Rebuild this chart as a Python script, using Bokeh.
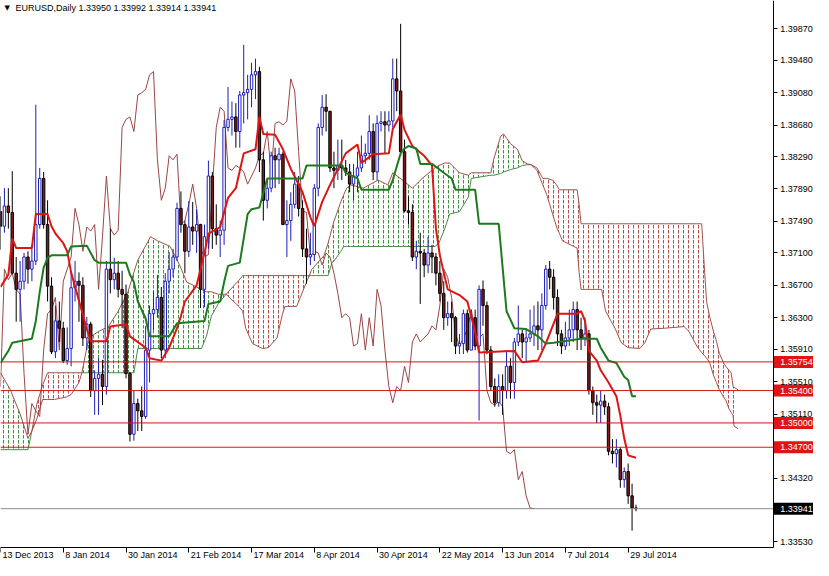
import numpy as np
from bokeh.plotting import figure
from bokeh.models import (Range1d, LinearAxis, FixedTicker, PrintfTickFormatter,
                          CustomJSTickFormatter, ColumnDataSource)
from bokeh.core.properties import value
from bokeh.embed import file_html
from bokeh.resources import INLINE

# ---------------- data ----------------
SYMBOL = "EURUSD,Daily"
LAST_BAR = ["1.33950", "1.33992", "1.33914", "1.33941"]

OPEN = [1.3761,1.3743,1.3768,1.3760,1.3685,1.3665,1.3675,1.3705,1.3690,1.3700,
        1.3745,1.3802,1.3745,1.3669,1.3588,1.3626,1.3617,1.3577,1.3592,1.3667,
        1.3675,1.3670,1.3605,1.3622,1.3540,1.3555,1.3560,1.3545,1.3690,1.3677,
        1.3685,1.3665,1.3659,1.3561,1.3486,1.3524,1.3515,1.3508,1.3590,1.3635,
        1.3640,1.3655,1.3590,1.3675,1.3690,1.3705,1.3765,1.3745,1.3712,1.3742,
        1.3737,1.3745,1.3665,1.3730,1.3805,1.3740,1.3732,1.3738,1.3865,1.3875,
        1.3878,1.3860,1.3905,1.3908,1.3912,1.3930,1.3934,1.3825,1.3775,1.3790,
        1.3830,1.3825,1.3832,1.3745,1.3750,1.3770,1.3795,1.3765,1.3715,1.3705,
        1.3708,1.3790,1.3865,1.3890,1.3885,1.3815,1.3812,1.3818,1.3815,1.3810,
        1.3795,1.3805,1.3815,1.3830,1.3833,1.3860,1.3810,1.3870,1.3872,1.3868,
        1.3873,1.3925,1.3910,1.3835,1.3762,1.3760,1.3705,1.3712,1.3710,1.3695,
        1.3710,1.3705,1.3685,1.3660,1.3630,1.3635,1.3630,1.3595,1.3598,1.3635,
        1.3590,1.3630,1.3595,1.3665,1.3645,1.3590,1.3545,1.3525,1.3545,1.3540,
        1.3570,1.3550,1.3600,1.3610,1.3600,1.3605,1.3610,1.3620,1.3615,1.3645,
        1.3690,1.3680,1.3655,1.3610,1.3595,1.3605,1.3615,1.3640,1.3615,1.3605,
        1.3610,1.3540,1.3525,1.3522,1.3527,1.3520,1.3465,1.3462,1.3467,1.3430,
        1.3440,1.3410,1.3395]
HIGH = [1.3780,1.3790,1.3790,1.3811,1.3705,1.3700,1.3710,1.3712,1.3720,1.3893,
        1.3815,1.3810,1.3775,1.3680,1.3645,1.3650,1.3625,1.3618,1.3686,1.3700,
        1.3686,1.3680,1.3631,1.3625,1.3565,1.3580,1.3578,1.3700,1.3740,1.3704,
        1.3700,1.3688,1.3671,1.3563,1.3540,1.3530,1.3545,1.3620,1.3645,1.3663,
        1.3683,1.3668,1.3685,1.3711,1.3715,1.3772,1.3786,1.3750,1.3774,1.3773,
        1.3764,1.3746,1.3745,1.3824,1.3810,1.3770,1.3750,1.3874,1.3915,1.3897,
        1.3895,1.3910,1.3967,1.3930,1.3945,1.3950,1.3940,1.3835,1.3800,1.3835,
        1.3840,1.3840,1.3835,1.3775,1.3785,1.3810,1.3805,1.3775,1.3740,1.3735,
        1.3795,1.3870,1.3905,1.3906,1.3885,1.3835,1.3850,1.3850,1.3825,1.3820,
        1.3820,1.3835,1.3855,1.3845,1.3880,1.3870,1.3880,1.3885,1.3885,1.3885,
        1.3950,1.3950,1.3993,1.3850,1.3780,1.3770,1.3725,1.3735,1.3715,1.3730,
        1.3720,1.3710,1.3700,1.3675,1.3650,1.3650,1.3632,1.3610,1.3640,1.3640,
        1.3640,1.3640,1.3670,1.3676,1.3650,1.3595,1.3555,1.3560,1.3560,1.3590,
        1.3580,1.3605,1.3645,1.3615,1.3615,1.3640,1.3645,1.3650,1.3660,1.3695,
        1.3700,1.3690,1.3665,1.3615,1.3625,1.3640,1.3650,1.3650,1.3630,1.3630,
        1.3615,1.3545,1.3535,1.3540,1.3535,1.3525,1.3480,1.3480,1.3470,1.3445,
        1.3450,1.3425,1.3399]
LOW = [1.3714,1.3735,1.3740,1.3685,1.3625,1.3625,1.3665,1.3672,1.3675,1.3695,
       1.3740,1.3740,1.3650,1.3585,1.3580,1.3600,1.3574,1.3572,1.3570,1.3650,
       1.3625,1.3595,1.3590,1.3532,1.3510,1.3510,1.3522,1.3535,1.3660,1.3665,
       1.3655,1.3617,1.3555,1.3477,1.3478,1.3490,1.3490,1.3505,1.3550,1.3615,
       1.3630,1.3580,1.3580,1.3660,1.3680,1.3700,1.3735,1.3685,1.3705,1.3720,
       1.3710,1.3642,1.3643,1.3715,1.3715,1.3720,1.3705,1.3720,1.3860,1.3855,
       1.3840,1.3840,1.3870,1.3875,1.3890,1.3900,1.3810,1.3750,1.3765,1.3785,
       1.3790,1.3795,1.3745,1.3705,1.3725,1.3765,1.3755,1.3705,1.3672,1.3695,
       1.3700,1.3780,1.3855,1.3860,1.3810,1.3790,1.3800,1.3800,1.3805,1.3785,
       1.3775,1.3785,1.3810,1.3820,1.3825,1.3800,1.3800,1.3860,1.3832,1.3860,
       1.3865,1.3885,1.3830,1.3760,1.3745,1.3700,1.3690,1.3647,1.3680,1.3685,
       1.3685,1.3670,1.3650,1.3615,1.3620,1.3600,1.3585,1.3585,1.3585,1.3587,
       1.3590,1.3590,1.3503,1.3620,1.3585,1.3540,1.3520,1.3520,1.3510,1.3530,
       1.3530,1.3530,1.3595,1.3580,1.3575,1.3600,1.3595,1.3590,1.3590,1.3640,
       1.3665,1.3640,1.3595,1.3585,1.3590,1.3595,1.3600,1.3590,1.3590,1.3595,
       1.3535,1.3510,1.3500,1.3500,1.3510,1.3460,1.3450,1.3445,1.3420,1.3420,
       1.3400,1.3367,1.3391]
CLOSE = [1.3743,1.3768,1.3760,1.3685,1.3665,1.3675,1.3705,1.3690,1.3700,1.3745,
         1.3802,1.3745,1.3669,1.3588,1.3626,1.3617,1.3577,1.3592,1.3667,1.3675,
         1.3670,1.3605,1.3622,1.3540,1.3555,1.3560,1.3545,1.3690,1.3677,1.3685,
         1.3665,1.3659,1.3561,1.3486,1.3524,1.3515,1.3508,1.3590,1.3635,1.3640,
         1.3655,1.3590,1.3675,1.3690,1.3705,1.3765,1.3745,1.3712,1.3742,1.3737,
         1.3745,1.3665,1.3730,1.3805,1.3740,1.3732,1.3738,1.3865,1.3875,1.3878,
         1.3860,1.3905,1.3908,1.3912,1.3930,1.3934,1.3825,1.3775,1.3790,1.3830,
         1.3825,1.3832,1.3745,1.3750,1.3770,1.3795,1.3765,1.3715,1.3705,1.3708,
         1.3790,1.3865,1.3890,1.3885,1.3815,1.3812,1.3818,1.3815,1.3810,1.3795,
         1.3805,1.3815,1.3830,1.3833,1.3860,1.3810,1.3870,1.3872,1.3868,1.3873,
         1.3925,1.3910,1.3835,1.3762,1.3760,1.3705,1.3712,1.3710,1.3695,1.3710,
         1.3705,1.3685,1.3660,1.3630,1.3635,1.3630,1.3595,1.3598,1.3635,1.3590,
         1.3630,1.3595,1.3665,1.3645,1.3590,1.3545,1.3525,1.3545,1.3540,1.3570,
         1.3550,1.3600,1.3610,1.3600,1.3605,1.3610,1.3620,1.3615,1.3645,1.3690,
         1.3680,1.3655,1.3610,1.3595,1.3605,1.3615,1.3640,1.3615,1.3605,1.3610,
         1.3540,1.3525,1.3522,1.3527,1.3520,1.3465,1.3462,1.3467,1.3430,1.3440,
         1.3410,1.3395,1.3394]

# Tenkan-sen (red) and Kijun-sen (green): bar index -> price
TENKAN_IDX = [0,2,3,4,8,9,12,13,14,15,16,17,18,22,23,27,28,32,33,37,38,41,43,45,46,47,
              50,52,53,56,58,60,62,65,66,67,70,72,74,77,79,80,82,84,88,91,92,95,99,100,
              102,103,105,108,110,111,112,113,114,117,119,121,122,131,133,137,139,142,
              147,148,149,150,152,153,155,157,158,159,160,162]
TENKAN = [1.3668,1.3683,1.3728,1.3716,1.3716,1.3758,1.3758,1.3743,1.3734,1.3728,1.3722,
          1.3712,1.3686,1.3616,1.3601,1.3601,1.3619,1.3622,1.3607,1.3593,1.3580,1.3577,
          1.3593,1.3617,1.3632,1.3650,1.3670,1.3710,1.3734,1.3742,1.3778,1.3790,1.3833,
          1.3838,1.3878,1.3857,1.3856,1.3838,1.3814,1.3785,1.3754,1.3743,1.3773,1.3794,
          1.3833,1.3844,1.3821,1.3832,1.3833,1.3863,1.3881,1.3862,1.3842,1.3830,1.3818,
          1.3740,1.3707,1.3686,1.3665,1.3658,1.3650,1.3613,1.3587,1.3589,1.3575,1.3577,
          1.3598,1.3635,1.3635,1.3638,1.3626,1.3589,1.3577,1.3565,1.3550,1.3533,1.3509,
          1.3481,1.3460,1.3457]
KIJUN_IDX = [0,2,3,8,9,10,11,12,13,17,18,22,24,25,32,33,34,35,37,38,43,45,52,53,56,57,
             58,61,62,63,64,66,68,77,78,87,88,91,92,99,100,102,103,104,106,107,110,113,
             115,116,121,122,127,129,131,134,137,139,141,148,152,153,155,157,159,160,161,162]
KIJUN = [1.3574,1.3589,1.3599,1.3604,1.3626,1.3662,1.3692,1.3704,1.3707,1.3707,1.3718,
         1.3719,1.3701,1.3698,1.3698,1.3683,1.3674,1.3650,1.3629,1.3607,1.3607,1.3623,
         1.3626,1.3647,1.3650,1.3674,1.3694,1.3698,1.3728,1.3758,1.3764,1.3766,1.3802,
         1.3802,1.3818,1.3818,1.3809,1.3802,1.3788,1.3788,1.3800,1.3833,1.3839,1.3842,
         1.3839,1.3820,1.3820,1.3809,1.3802,1.3788,1.3788,1.3746,1.3746,1.3638,1.3617,
         1.3616,1.3607,1.3598,1.3599,1.3604,1.3604,1.3593,1.3577,1.3574,1.3557,1.3553,
         1.3533,1.3533]

# Senkou span A / B (cloud edges, shifted 26 bars forward)
SPAN_IDX = [0,2.5,5,7,8,9.25,10.75,12,13.75,16.75,18,20,20.75,22.5,25,27.5,30,32.5,34,35,
            38.25,40,43.25,45.75,47.5,50,51.25,52.5,53.75,55.5,57.5,60.75,61.75,62.5,64.25,
            66.75,68.25,70.5,71.75,72.5,75.5,76.25,78.25,78.75,79.25,82.5,83.5,84.5,85,86.75,
            87.5,88.25,89.25,92.5,96.25,98.75,100,102.5,105,107.5,110.75,111.75,113.25,114.5,
            117,119.25,120,125,125.75,127.5,128.25,130,131.75,133,134.25,135.25,136.75,138.25,
            139.25,140.75,141.75,142.5,143.25,147,147.5,148,153.25,154.25,156.75,158.25,160,
            163,164.25,165.75,169.25,174.25,175.5,177.5,178.75,179.5,180,180.75,181.75,182.5,
            183.25,184.25,185,185.75,186.25,186.75,187,188]
SPAN_A = [1.3562,1.3541,1.3511,1.3481,1.3490,1.3505,1.3529,1.3529,1.3529,1.3532,1.3535,
          1.3550,1.3562,1.3605,1.3613,1.3619,1.3638,1.3662,1.3686,1.3701,1.3730,1.3725,
          1.3718,1.3694,1.3674,1.3668,1.3665,1.3662,1.3662,1.3659,1.3659,1.3644,1.3638,
          1.3617,1.3598,1.3592,1.3593,1.3605,1.3632,1.3644,1.3644,1.3653,1.3677,1.3682,
          1.3689,1.3707,1.3722,1.3740,1.3749,1.3773,1.3782,1.3790,1.3794,1.3790,1.3800,
          1.3794,1.3809,1.3800,1.3790,1.3802,1.3815,1.3818,1.3821,1.3821,1.3809,1.3806,
          1.3809,1.3809,1.3826,1.3854,1.3857,1.3845,1.3838,1.3824,1.3820,1.3819,1.3812,
          1.3794,1.3782,1.3758,1.3742,1.3734,1.3725,1.3716,1.3686,1.3665,1.3665,1.3638,
          1.3616,1.3599,1.3593,1.3592,1.3599,1.3616,1.3617,1.3619,1.3613,1.3595,1.3587,
          1.3583,1.3580,1.3575,1.3559,1.3550,1.3541,1.3533,1.3527,1.3517,1.3513,1.3509,
          1.3496,1.3493]
SPAN_B = [1.3467,1.3467,1.3467,1.3467,1.3490,1.3523,1.3547,1.3562,1.3562,1.3562,1.3562,
          1.3562,1.3562,1.3562,1.3562,1.3562,1.3562,1.3562,1.3562,1.3592,1.3592,1.3592,
          1.3592,1.3592,1.3592,1.3592,1.3592,1.3607,1.3632,1.3647,1.3659,1.3676,1.3682,
          1.3682,1.3682,1.3682,1.3682,1.3682,1.3682,1.3682,1.3682,1.3682,1.3682,1.3682,
          1.3682,1.3682,1.3682,1.3698,1.3700,1.3712,1.3718,1.3718,1.3718,1.3718,1.3718,
          1.3718,1.3718,1.3718,1.3718,1.3718,1.3718,1.3722,1.3740,1.3758,1.3761,1.3779,
          1.3802,1.3806,1.3806,1.3808,1.3810,1.3813,1.3815,1.3818,1.3819,1.3819,1.3815,
          1.3802,1.3802,1.3800,1.3794,1.3788,1.3788,1.3788,1.3770,1.3746,1.3746,1.3746,
          1.3746,1.3746,1.3746,1.3746,1.3746,1.3746,1.3746,1.3746,1.3746,1.3746,1.3746,
          1.3686,1.3650,1.3632,1.3613,1.3601,1.3586,1.3575,1.3569,1.3565,1.3562,1.3545,
          1.3544,1.3541]
CHIKOU_SHIFT = 26

DATE_TICK_IDX = [0, 16, 32, 48, 64, 80, 96, 112, 128, 144, 160]
DATE_TICK_LABELS = ["13 Dec 2013", "8 Jan 2014", "30 Jan 2014", "21 Feb 2014", "17 Mar 2014",
                    "8 Apr 2014", "30 Apr 2014", "22 May 2014", "13 Jun 2014", "7 Jul 2014",
                    "29 Jul 2014"]
PRICE_TICKS = [1.39870, 1.39480, 1.39080, 1.38680, 1.38290, 1.37890, 1.37490, 1.37100,
               1.36700, 1.36300, 1.35910, 1.35510, 1.35110, 1.34320, 1.33530]
LEVELS = [1.35754, 1.35400, 1.35000, 1.34700]
BID = 1.33941

# ---------------- layout / styling ----------------
FONT = "Liberation Sans"
X0, X1 = 0.0, 207.25          # whole canvas width in bar units
AXIS_X = 197.0                # price scale position
Y_TOP, Y_BOT = 1.40218, 1.33301
AXIS_Y = 1.33457              # time scale position
TENKAN_C = "#DD1515"
KIJUN_C = "#1F7A1F"
CHIKOU_C = "#9A4646"
UP_KUMO = "#2E842E"
DN_KUMO = "#B03C3C"
UP_EDGE = "#4A8A4A"
DN_EDGE = "#A0524A"
LEVEL_C = "#D01818"

p = figure(width=813, height=560, x_range=Range1d(X0, X1), y_range=Range1d(Y_BOT, Y_TOP),
           output_backend="svg", toolbar_location=None,
           x_axis_location=None, y_axis_location=None,
           min_border=0, min_border_left=0, min_border_right=0,
           min_border_top=0, min_border_bottom=0)
p.outline_line_color = None
p.background_fill_color = "white"
p.border_fill_color = "white"
p.grid.grid_line_color = None

# cloud
sx = np.array(SPAN_IDX, dtype=float)
sa = np.array(SPAN_A)
sb = np.array(SPAN_B)
top = np.maximum(sa, sb)
p.varea(x=sx, y1=sb, y2=top, fill_alpha=0, hatch_pattern=":",
        hatch_color=UP_KUMO, hatch_scale=5, hatch_weight=1, hatch_alpha=0.9)
p.varea(x=sx, y1=sa, y2=top, fill_alpha=0, hatch_pattern=":",
        hatch_color=DN_KUMO, hatch_scale=5, hatch_weight=1, hatch_alpha=0.9)
# span B edge: green where the cloud is bullish, brown where it is bearish
up_seg = (sa[:-1] + sa[1:]) >= (sb[:-1] + sb[1:])
p.segment(x0=sx[:-1], y0=sb[:-1], x1=sx[1:], y1=sb[1:],
          line_color=np.where(up_seg, UP_EDGE, DN_EDGE).tolist(), line_width=1)
p.line(sx, sa, line_color=DN_EDGE, line_width=1)

# chikou span
idx = np.arange(len(CLOSE))
p.line(idx[CHIKOU_SHIFT:] - CHIKOU_SHIFT, CLOSE[CHIKOU_SHIFT:], line_color=CHIKOU_C, line_width=1)

# candles
o = np.array(OPEN); c = np.array(CLOSE)
bull = c >= o
src = ColumnDataSource(dict(
    x=idx, high=HIGH, low=LOW, top=np.maximum(o, c), bottom=np.minimum(o, c),
    fill=np.where(bull, "white", "#7E1C1C"),
    line=np.where(bull, "#1E1EB4", "#000000"),
))
p.segment(x0="x", y0="low", x1="x", y1="high", line_color="line", line_width=1, source=src)
p.vbar(x="x", width=0.62, top="top", bottom="bottom", fill_color="fill",
       line_color="line", line_width=1, source=src)

# tenkan / kijun
p.line(TENKAN_IDX, TENKAN, line_color=TENKAN_C, line_width=2)
p.line(KIJUN_IDX, KIJUN, line_color=KIJUN_C, line_width=2)

# horizontal levels (stop at the price scale)
p.segment(x0=[X0] * len(LEVELS), x1=[AXIS_X] * len(LEVELS), y0=LEVELS, y1=LEVELS,
          line_color=LEVEL_C, line_width=1)
p.segment(x0=[X0], x1=[AXIS_X], y0=[BID], y1=[BID], line_color="#8C8C8C", line_width=1)

# price tags on the scale
tag_x = [(AXIS_X + X1) / 2] * (len(LEVELS) + 1)
p.rect(x=tag_x, y=LEVELS + [BID], width=X1 - AXIS_X - 0.25, height=12, height_units="screen",
       fill_color=["#E01414"] * len(LEVELS) + ["black"], line_color=None)
p.text(x=[AXIS_X] * (len(LEVELS) + 1), y=LEVELS + [BID],
       text=[f"{v:.5f}" for v in LEVELS + [BID]], x_offset=7,
       text_align="left", text_baseline="middle", text_color="white",
       text_font=value(FONT), text_font_size=value("9px"))

# axes
yax = LinearAxis(ticker=FixedTicker(ticks=PRICE_TICKS),
                 formatter=PrintfTickFormatter(format="%.5f"),
                 fixed_location=AXIS_X, bounds=(AXIS_Y, Y_TOP),
                 major_tick_in=0, major_tick_out=4, minor_tick_line_color=None,
                 axis_line_color="black", major_tick_line_color="black",
                 major_label_text_font=FONT, major_label_text_font_size="9px",
                 major_label_text_color="black", major_label_standoff=3)
p.add_layout(yax, "right")
xax = LinearAxis(ticker=FixedTicker(ticks=DATE_TICK_IDX),
                 formatter=CustomJSTickFormatter(code="return ''"),
                 fixed_location=AXIS_Y, bounds=(X0, AXIS_X),
                 major_tick_in=0, major_tick_out=5, minor_tick_line_color=None,
                 axis_line_color="black", major_tick_line_color="black",
                 major_label_text_font_size="9px", major_label_standoff=0)
p.add_layout(xax, "below")

# date labels, left-aligned after each tick
p.text(x=DATE_TICK_IDX, y=[AXIS_Y] * len(DATE_TICK_IDX), text=DATE_TICK_LABELS,
       x_offset=2, y_offset=2, text_align="left", text_baseline="top",
       text_color="black", text_font=value(FONT), text_font_size=value("9px"))

# header
p.text(x=[X0], y=[Y_TOP], text=["\u25BC"], x_offset=4, y_offset=3,
       text_align="left", text_baseline="top", text_color="black",
       text_font=value("DejaVu Sans"), text_font_size=value("7px"))
p.text(x=[X0], y=[Y_TOP], text=[SYMBOL + "  " + " ".join(LAST_BAR)], x_offset=15, y_offset=2,
       text_align="left", text_baseline="top", text_color="black",
       text_font=value(FONT), text_font_size=value("9px"))

open("out.html", "w").write(file_html(p, INLINE))
